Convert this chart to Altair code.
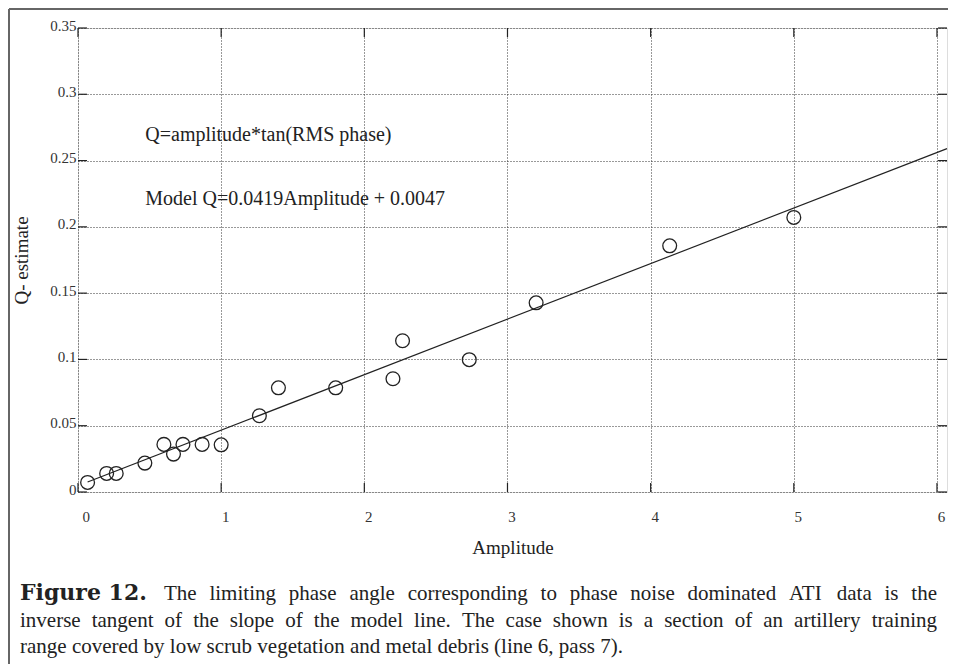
import altair as alt
import pandas as pd

# ---- data ----
amplitude = [0.067, 0.2, 0.267, 0.467, 0.6, 0.667, 0.733, 0.867, 1.0, 1.267,
             1.4, 1.8, 2.2, 2.267, 2.733, 3.2, 4.133, 5.0]
q_estimate = [0.0072, 0.0140, 0.0140, 0.0218, 0.0359, 0.0286, 0.0359, 0.0359,
              0.0356, 0.0575, 0.0786, 0.0786, 0.0854, 0.1141, 0.0998, 0.1427,
              0.1857, 0.2071]
model_amp = [0.067, 6.07]
model_q = [0.0075, 0.2590]
x_ticks = [0, 1, 2, 3, 4, 5, 6]
y_ticks = [0, 0.05, 0.1, 0.15, 0.2, 0.25, 0.3, 0.35]
annot_text = ["Q=amplitude*tan(RMS phase)", "Model Q=0.0419Amplitude + 0.0047"]
annot_x = [0.47, 0.47]
annot_y = [0.269, 0.221]
caption_bold = "Figure 12."
caption_line1_rest = "The limiting phase angle corresponding to phase noise dominated ATI data is the"
caption_line2 = "inverse tangent of the slope of the model line. The case shown is a section of an artillery training"
caption_line3 = "range covered by low scrub vegetation and metal debris (line 6, pass 7)."

W, H = 869, 464
PL, PT = 70, 20
FONT = "Liberation Serif"
INK = "#222222"
CAP_SIZE = 21

# Times-compatible advance widths (em) used only to justify caption lines
_TW = {c: 0.5 for c in "bdghknopquvxy0123456789"}
_TW.update({"a": .444, "c": .444, "e": .444, "z": .444, "f": .333, "r": .333,
            "i": .278, "j": .278, "l": .278, "t": .278, "m": .778, "s": .389,
            "w": .722, "A": .722, "T": .611, "I": .333, ".": .25, ",": .25,
            "(": .333, ")": .333, " ": .25})


def word_w(w, size):
    return sum(_TW.get(c, 0.5) for c in w) * size


def justify(text, x0, x1, size):
    words = text.split(" ")
    nat = [word_w(w, size) for w in words]
    gap = (x1 - x0 - sum(nat)) / (len(words) - 1)
    xs_, pos = [], x0
    for n in nat:
        xs_.append(pos)
        pos += n + gap
    return words, xs_


xs = alt.Scale(domain=[0, 6.07], nice=False, zero=False)
ys = alt.Scale(domain=[0, 0.35], nice=False, zero=False)

pts_df = pd.DataFrame({"Amplitude": amplitude, "Q": q_estimate})
line_df = pd.DataFrame({"Amplitude": model_amp, "Q": model_q})
xt_df = pd.DataFrame({"v": x_ticks})
yt_df = pd.DataFrame({"v": y_ticks})
ann_df = pd.DataFrame({"t": annot_text, "x": annot_x, "y": annot_y})

x_axis = alt.Axis(values=x_ticks, format="~g", grid=True, gridDash=[1, 2],
                  gridColor="#333333", gridWidth=1, domain=False, ticks=False,
                  labelFont=FONT, labelFontSize=15, labelColor="#333333",
                  labelOffset=4, labelPadding=24, labelBaseline="middle",
                  title="Amplitude", titleFont=FONT, titleFontSize=19,
                  titleFontWeight="normal", titleColor=INK, titlePadding=14)
y_axis = alt.Axis(values=y_ticks, format="~g", grid=True, gridDash=[1, 2],
                  gridColor="#333333", gridWidth=1, domain=False, ticks=False,
                  labelFont=FONT, labelFontSize=15, labelColor="#333333",
                  labelOffset=-3, labelPadding=2, labelBaseline="middle",
                  title="Q- estimate", titleFont=FONT, titleFontSize=19,
                  titleFontWeight="normal", titleColor=INK, titlePadding=18)

grid = alt.Chart(pts_df).mark_point(opacity=0).encode(
    x=alt.X("Amplitude:Q", scale=xs, axis=x_axis),
    y=alt.Y("Q:Q", scale=ys, axis=y_axis),
)

points = alt.Chart(pts_df).mark_point(
    shape="circle", size=190, filled=False, color=INK, strokeWidth=1.3, opacity=1
).encode(x=alt.X("Amplitude:Q", scale=xs), y=alt.Y("Q:Q", scale=ys))

model = alt.Chart(line_df).mark_line(color=INK, strokeWidth=1.2).encode(
    x=alt.X("Amplitude:Q", scale=xs), y=alt.Y("Q:Q", scale=ys))

TL = 9
tick_bot = alt.Chart(xt_df).mark_rule(color=INK, strokeWidth=1.2).encode(
    x=alt.X("v:Q", scale=xs), y=alt.value(H), y2=alt.value(H - TL))
tick_top = alt.Chart(xt_df).mark_rule(color=INK, strokeWidth=1.2).encode(
    x=alt.X("v:Q", scale=xs), y=alt.value(0), y2=alt.value(TL))
tick_left = alt.Chart(yt_df).mark_rule(color=INK, strokeWidth=1.2).encode(
    y=alt.Y("v:Q", scale=ys), x=alt.value(0), x2=alt.value(TL))
tick_right = alt.Chart(yt_df).mark_rule(color=INK, strokeWidth=1.2).encode(
    y=alt.Y("v:Q", scale=ys), x=alt.value(W), x2=alt.value(W - TL))

annots = alt.Chart(ann_df).mark_text(
    align="left", baseline="middle", font=FONT, fontSize=20, color=INK
).encode(x=alt.X("x:Q", scale=xs), y=alt.Y("y:Q", scale=ys), text="t:N")

# ---- caption (positions relative to the plot's top-left corner) ----
CX0, CX1 = -58, 859
BASE = [572, 598.5, 625]
l1_words, l1_x = justify(caption_line1_rest, 86, CX1, CAP_SIZE)
l2_words, l2_x = justify(caption_line2, CX0, CX1, CAP_SIZE)
cap_df = pd.DataFrame({
    "t": l1_words + l2_words,
    "px": l1_x + l2_x,
    "py": [BASE[0]] * len(l1_words) + [BASE[1]] * len(l2_words),
})

cap_words = alt.Chart(cap_df).mark_text(
    align="left", baseline="alphabetic", font=FONT, fontSize=CAP_SIZE, color=INK
).encode(x=alt.X("px:Q", scale=None), y=alt.Y("py:Q", scale=None), text="t:N")

cap_bold = alt.Chart(pd.DataFrame({"t": [caption_bold]})).mark_text(
    align="left", baseline="alphabetic", font="DejaVu Serif", fontSize=22,
    fontWeight="bold", color=INK
).encode(x=alt.value(CX0), y=alt.value(BASE[0]), text="t:N")
cap_l3 = alt.Chart(pd.DataFrame({"t": [caption_line3]})).mark_text(
    align="left", baseline="alphabetic", font=FONT, fontSize=CAP_SIZE, color=INK
).encode(x=alt.value(CX0), y=alt.value(BASE[2]), text="t:N")

# outer figure frame (left and top edges)
frame_left = alt.Chart(pd.DataFrame({"a": [0]})).mark_rule(
    color="#666666", strokeWidth=2).encode(
    x=alt.value(-PL + 1), y=alt.value(-PT + 1), y2=alt.value(H + 172))
frame_top = alt.Chart(pd.DataFrame({"a": [0]})).mark_rule(
    color="#666666", strokeWidth=2).encode(
    x=alt.value(-PL + 1), x2=alt.value(W + 1), y=alt.value(-PT + 1))

chart = alt.layer(
    grid, model, points, tick_bot, tick_top, tick_left, tick_right, annots,
    cap_bold, cap_words, cap_l3, frame_left, frame_top
).properties(
    width=W, height=H,
    autosize=alt.AutoSizeParams(type="none"),
    padding={"left": PL, "top": PT, "right": 1, "bottom": 172},
).configure_view(stroke=INK, strokeWidth=1.3).configure(background="white")

chart.save("out.html", embed_options={"renderer": "svg", "actions": False})
